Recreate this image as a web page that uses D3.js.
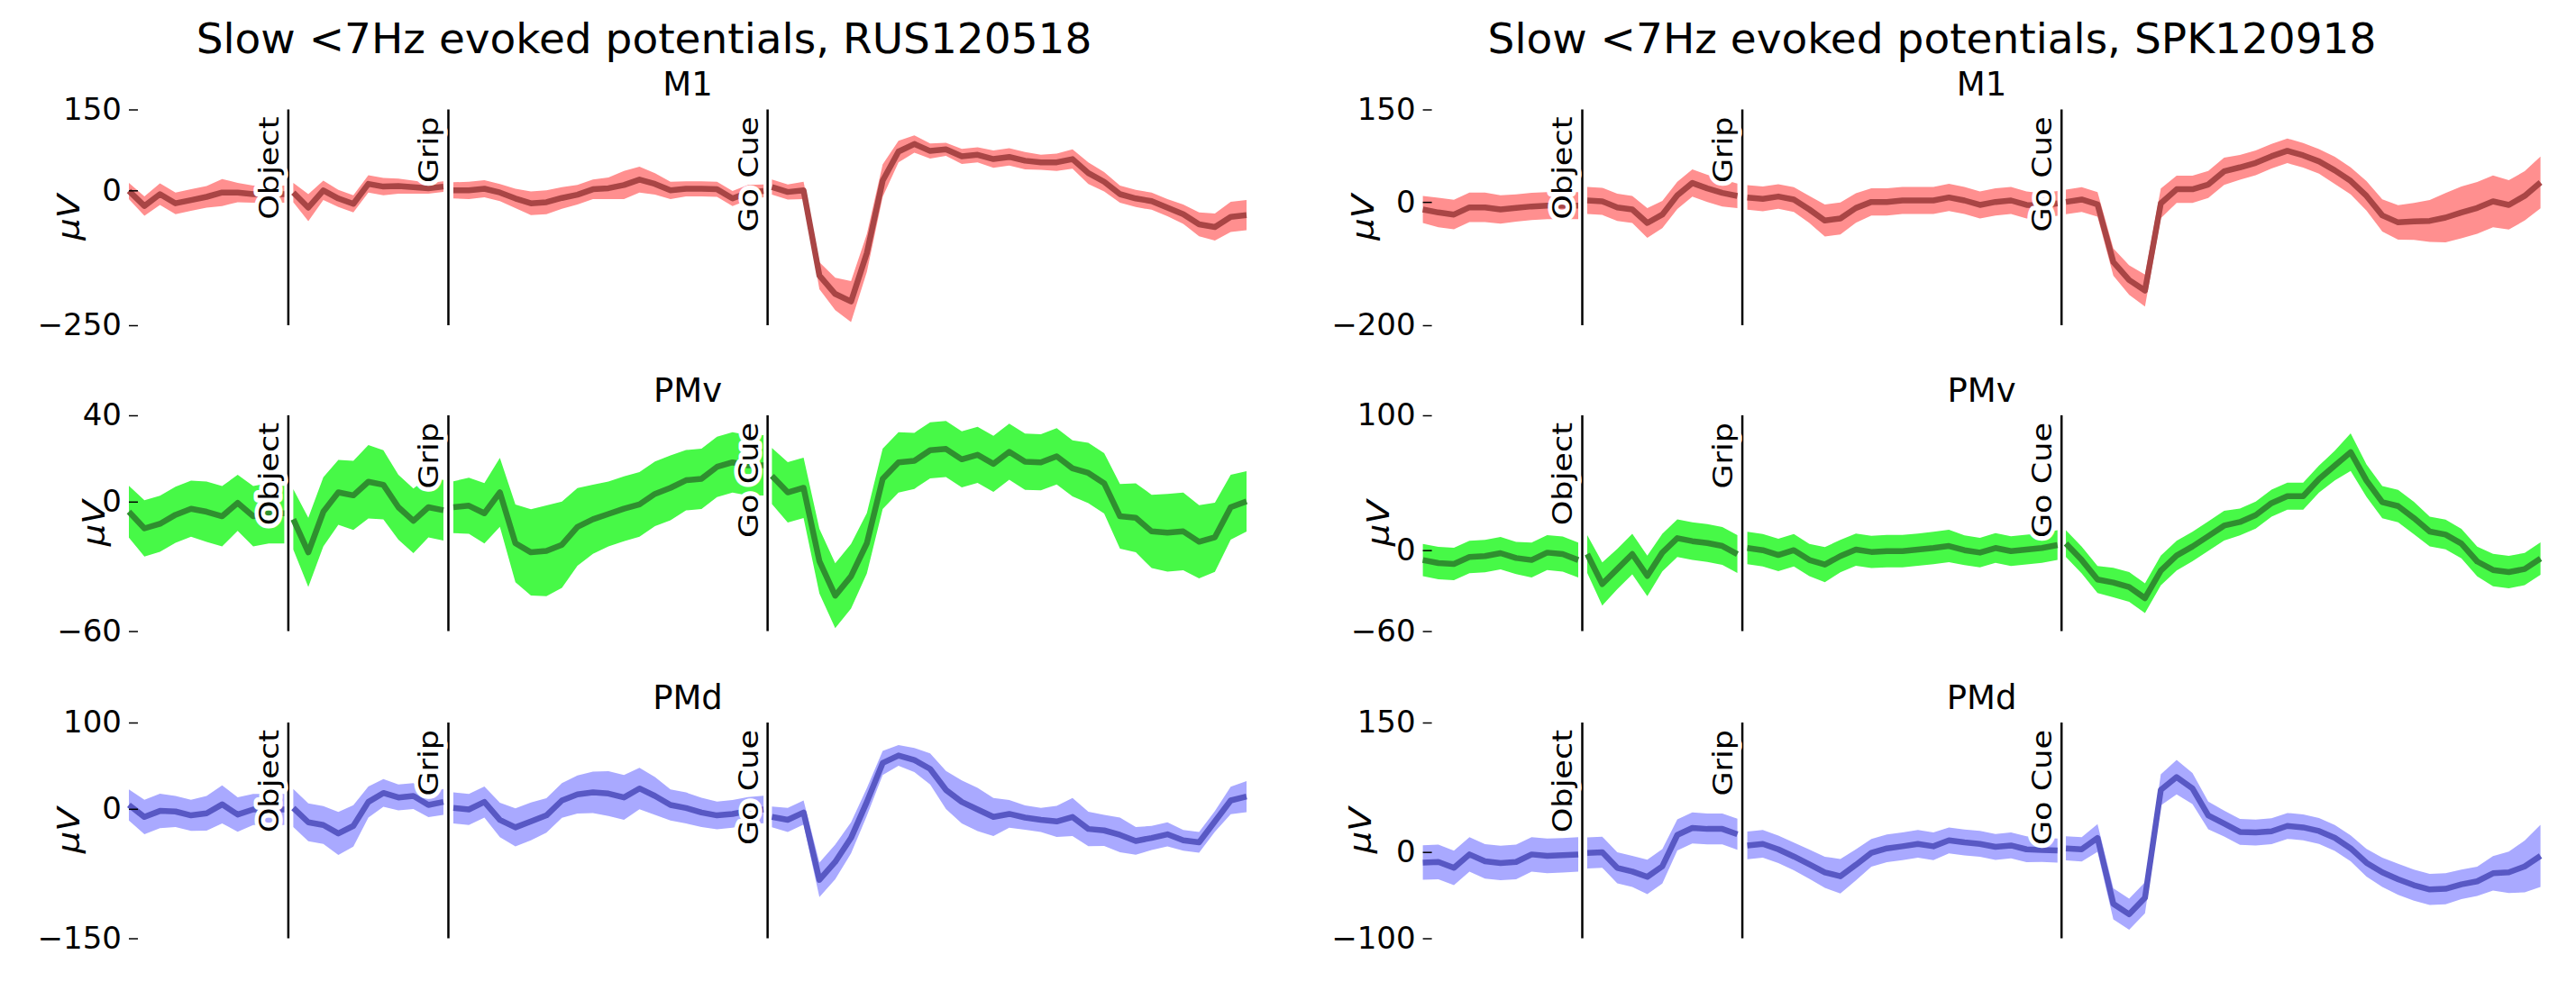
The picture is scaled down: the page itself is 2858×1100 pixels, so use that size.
<!DOCTYPE html>
<html><head><meta charset="utf-8">
<script src="https://cdn.jsdelivr.net/npm/d3@7"></script>
<style>
body{margin:0;background:#fff}
svg{display:block}
text{font-family:"DejaVu Sans",sans-serif}
</style>
</head><body>
<svg id="chart" width="2858" height="1100"></svg>
<script>
// ---------------- DATA ----------------
const sessions = ["RUS120518", "SPK120918"];
const areas = ["M1", "PMv", "PMd"];
const events = ["Object", "Grip", "Go Cue"];
const eventTimes = [513, 1028, 2055];                 // composite time axis (ms)
const segWindows = [[0, 500], [529, 1012], [1044, 2042], [2069, 3596]];

// y tick labels (also the y limits) per session / area
const ticksRUS = { M1: [-250, 0, 150], PMv: [-60, 0, 40], PMd: [-150, 0, 100] };
const ticksSPK = { M1: [-200, 0, 150], PMv: [-60, 0, 100], PMd: [-100, 0, 150] };

// mean evoked potential (uV), one list per segment
const rusM1Mean = [
  [-1,-29,-7,-24,-18,-12,-4,-4,-7,-7,-7],
  [-4,-32,0,-15,-25,12,7,8,6,4,7],
  [0,0,3,-4,-15,-24,-22,-14,-8,2,4,10,20,12,0,3,3,2,-15,-4,-1],
  [6,-3,0,-158,-192,-206,-116,18,72,86,73,76,63,66,58,62,55,52,52,58,32,16,-7,-15,-20,-32,-44,-63,-68,-49,-46]
];
const rusM1Err = [
  [15,18,20,20,20,20,25,18,16,16,16],
  [18,25,18,16,16,16,16,14,12,10,10],
  [15,16,16,16,18,22,22,20,18,18,20,26,24,20,16,14,14,14,14,14,12],
  [14,14,16,25,30,38,35,30,20,16,14,12,14,14,16,16,16,14,16,18,20,18,16,16,16,16,18,22,25,28,28]
];
const rusPMvMean = [
  [-4.7,-12.4,-10.3,-6.1,-3.3,-4.7,-6.8,-0.6,-6.8,-5.4,-5.4],
  [-8.2,-23.5,-4.7,4.3,2.9,9.2,7.8,-2.6,-8.9,-2.6,-4.0],
  [-2.6,-1.9,-5.4,4.3,-19.3,-23.5,-22.8,-20,-11.7,-8.2,-5.7,-3.3,-1.3,3.6,6.4,9.9,10.6,16.1,18.2,16.8,16.8],
  [11.9,4.3,6.4,-27.6,-43.6,-34.6,-19.3,10.6,18.2,18.9,23.8,24.4,19.6,21.7,17.5,23.1,18.5,18.2,21.0,15.4,13.3,8.5,-6.8,-7.5,-13.8,-14.4,-13.8,-18.6,-16.5,-2.6,0.1]
];
const rusPMvErr = [
  [12,13,13,13,13,14,14,13,14,14,14],
  [14,16,16,15,16,17,16,15,15,14,14],
  [12,13,14,16,18,20,21,20,18,16,15,15,15,15,15,14,14,14,14,14,14],
  [13,14,14,15,15,15,14,14,14,13,13,13,13,13,13,13,13,13,13,13,14,14,15,16,17,18,18,17,16,15,14]
];
const rusPMdMean = [
  [4.5,-9.4,-2.4,-3.1,-7.6,-5.2,5.2,-6.6,-0.7,-0.7,-0.7],
  [1.0,-15.6,-18.7,-28.5,-19.8,8.0,18.4,13.2,14.9,4.5,8.0],
  [1.0,-0.7,8.0,-12.8,-21.5,-14.6,-7.6,9.7,16.7,19.1,17.7,13.2,23.6,14.9,4.5,1.0,-4.2,-7.6,-5.9,-2.4,-0.7],
  [-9.4,-12.8,-4.2,-82.3,-61.5,-33.7,8.0,53.1,61.8,56.6,46.2,21.9,8.0,-0.7,-9.4,-5.9,-10.1,-12.8,-14.6,-9.4,-23.3,-25.0,-30.2,-37.2,-33.7,-29.5,-36.5,-38.9,-14.6,9.7,14.2]
];
const rusPMdErr = [
  [18,20,20,18,18,20,22,20,18,18,18],
  [22,22,22,25,24,18,16,15,15,14,15],
  [18,18,18,20,22,22,20,20,22,24,26,26,24,22,18,18,17,16,16,16,16],
  [12,14,14,20,20,18,16,14,12,14,18,22,25,25,22,16,14,14,18,22,20,18,20,16,14,14,12,12,12,16,18]
];
const spkM1Mean = [
  [-12.2,-17.1,-20.5,-8.8,-8.8,-12.2,-9.8,-7.3,-5.9,-5.9,-5.9],
  [2.4,1.0,-8.8,-12.2,-34.1,-20.5,10.7,30.7,21.9,14.6,9.8],
  [7.3,4.9,8.8,3.9,-12.2,-30.2,-26.8,-9.8,0,0,2.4,2.4,2.4,7.3,2.4,-4.9,0,2.4,-4.9,-5.9,-2.4],
  [0,3.9,-3.9,-97.5,-126.8,-143.8,-2.4,20.5,20.5,28.3,49.7,56.1,63.4,74.1,82.9,75.6,65.8,51.2,34.1,9.8,-21.9,-33.2,-31.7,-30.7,-25.4,-17.1,-9.8,1.0,-4.9,9.8,31.7]
];
const spkM1Err = [
  [22,24,24,24,24,23,22,22,22,22,22],
  [22,22,22,22,24,22,22,22,22,22,20],
  [20,20,20,20,22,26,26,24,22,22,22,22,22,22,22,22,22,22,22,20,20],
  [20,20,20,22,24,26,24,22,22,22,22,20,20,20,20,20,20,22,22,24,26,28,30,34,40,42,42,42,40,40,42]
];
const spkPMvMean = [
  [-7.3,-9.6,-10.2,-5.1,-4.4,-2.2,-5.8,-7.3,-1.8,-2.9,-7.3],
  [-2.9,-25.1,-14.0,-2.9,-19.1,-1.8,8.9,6.7,5.3,3.1,-2.9],
  [1.6,0,-3.6,0,-7.3,-10.7,-4.4,0.4,-1.3,-0.7,-0.7,0.4,1.6,3.1,0,-1.8,1.6,-0.7,0.4,1.6,3.8],
  [4.9,-7.3,-21.8,-24.0,-27.3,-35.6,-15.1,-4.0,2.7,10.4,18.2,20.9,26.0,34.9,40.0,40.0,52.7,62.7,72.7,51.6,35.6,32.7,23.8,13.8,11.6,4.9,-8.4,-14.7,-16.2,-14.0,-6.2]
];
const spkPMvErr = [
  [12,12,12,12,12,12,12,13,13,13,13],
  [14,16,15,15,15,14,14,14,14,14,14],
  [12,12,12,12,12,13,12,12,12,12,12,12,12,12,11,11,11,11,11,11,11],
  [10,10,10,11,11,11,11,11,11,11,11,10,10,10,10,10,10,11,14,12,12,12,12,11,11,11,11,12,12,12,12]
];
const spkPMdMean = [
  [-12.2,-11.5,-18.4,-2.8,-10.8,-12.8,-11.5,-2.8,-4.5,-3.8,-2.8],
  [-1.0,-0.3,-18.4,-22.6,-28.8,-16.7,19.8,27.8,26.7,26.7,20.5],
  [7.6,9.4,3.1,-5.2,-14.2,-23.6,-28.1,-14.9,-1.0,4.2,6.6,9.4,6.6,13.5,11.1,9.4,5.9,7.6,3.1,2.4,1.7],
  [4.2,3.1,16.3,-60.1,-72.2,-53,72,86.8,73.6,42.4,33.0,23.3,22.6,24.0,30.2,28.5,24.3,16.3,4.2,-12.5,-23.6,-31.6,-38.5,-43.4,-42.7,-37.5,-34.0,-24.7,-23.6,-16.7,-4.5]
];
const spkPMdErr = [
  [20,20,20,20,20,20,20,20,20,20,20],
  [18,18,18,18,20,20,18,18,18,18,18],
  [16,16,16,16,17,18,20,18,16,16,16,16,16,15,15,15,15,15,15,14,14],
  [14,14,16,18,18,18,18,20,18,16,15,15,15,15,15,15,15,15,15,16,17,18,18,18,18,17,17,20,24,30,36]
];

// ---------------- LAYOUT / STYLE ----------------
const svg = d3.select("#chart");
const colLeft = [143, 1578.6], plotW = 1240;
const rowTop = [121.5, 461, 802], plotH = 239.5;
const ylabOffset = [[55, 27, 55], [55, 38, 58]];
const bandColor = { M1: "#ff8f8f", PMv: "#47f947", PMd: "#a9a9ff" };
const lineColor = { M1: "#a94545", PMv: "#2f8f2f", PMd: "#5858c4" };

const panels = [
  { s: 0, a: "M1", mean: rusM1Mean, err: rusM1Err, ticks: ticksRUS.M1 },
  { s: 0, a: "PMv", mean: rusPMvMean, err: rusPMvErr, ticks: ticksRUS.PMv },
  { s: 0, a: "PMd", mean: rusPMdMean, err: rusPMdErr, ticks: ticksRUS.PMd },
  { s: 1, a: "M1", mean: spkM1Mean, err: spkM1Err, ticks: ticksSPK.M1 },
  { s: 1, a: "PMv", mean: spkPMvMean, err: spkPMvErr, ticks: ticksSPK.PMv },
  { s: 1, a: "PMd", mean: spkPMdMean, err: spkPMdErr, ticks: ticksSPK.PMd }
];

// figure titles
sessions.forEach((s, i) => {
  svg.append("text").attr("x", 714.5 + i * 1429).attr("y", 59)
    .attr("text-anchor", "middle").attr("font-size", 47)
    .text("Slow <7Hz evoked potentials, " + s);
});

panels.forEach(p => {
  const r = areas.indexOf(p.a);
  const X0 = colLeft[p.s], top = rowTop[r];
  const x = d3.scaleLinear().domain([0, 3596]).range([X0, X0 + plotW]);
  const y = d3.scaleLinear().domain(d3.extent(p.ticks)).range([top + plotH, top]);
  const g = svg.append("g");

  // panel title
  g.append("text").attr("x", X0 + plotW / 2).attr("y", top - 15.5)
    .attr("text-anchor", "middle").attr("font-size", 37).text(p.a);

  segWindows.forEach((w, k) => {
    const m = p.mean[k], e = p.err[k];
    const t = d3.scaleLinear().domain([0, m.length - 1]).range(w);
    const pts = m.map((v, i) => ({ t: t(i), v, e: e[i] }));
    g.append("path").datum(pts)
      .attr("fill", bandColor[p.a])
      .attr("d", d3.area().x(d => x(d.t)).y0(d => y(d.v - d.e)).y1(d => y(d.v + d.e)));
    g.append("path").datum(pts)
      .attr("fill", "none").attr("stroke", lineColor[p.a]).attr("stroke-width", 6.5)
      .attr("stroke-linejoin", "round")
      .attr("d", d3.line().x(d => x(d.t)).y(d => y(d.v)));
  });

  // event lines and labels
  events.forEach((ev, j) => {
    const ex = x(eventTimes[j]);
    g.append("line").attr("x1", ex).attr("x2", ex).attr("y1", top).attr("y2", top + plotH)
      .attr("stroke", "#000").attr("stroke-width", 2.5);
    g.append("text")
      .attr("transform", `translate(${ex - 11},${top + 8}) rotate(-90) scale(1.17,1)`)
      .attr("text-anchor", "end").attr("font-size", 30)
      .attr("stroke", "#fff").attr("stroke-width", 9).attr("stroke-linejoin", "round")
      .attr("paint-order", "stroke").attr("fill", "#000")
      .text(ev);
  });

  // y axis
  const ax = g.append("g").attr("transform", `translate(${X0},0)`)
    .call(d3.axisLeft(y).tickValues(p.ticks).tickSize(-10).tickPadding(8));
  ax.select(".domain").remove();
  ax.selectAll(".tick line").attr("stroke", "#000").attr("stroke-width", 1.5);
  ax.selectAll(".tick text").attr("font-size", 34).attr("font-family", "DejaVu Sans").attr("fill", "#000");

  // y label
  g.append("text")
    .attr("transform", `translate(${X0 - ylabOffset[p.s][r]},${top + plotH / 2}) rotate(-90) scale(1.17,1)`)
    .attr("text-anchor", "middle").attr("font-size", 33)
    .attr("font-family", "Liberation Serif").attr("font-style", "italic")
    .text("\u03bcV");
});
</script>
</body></html>
